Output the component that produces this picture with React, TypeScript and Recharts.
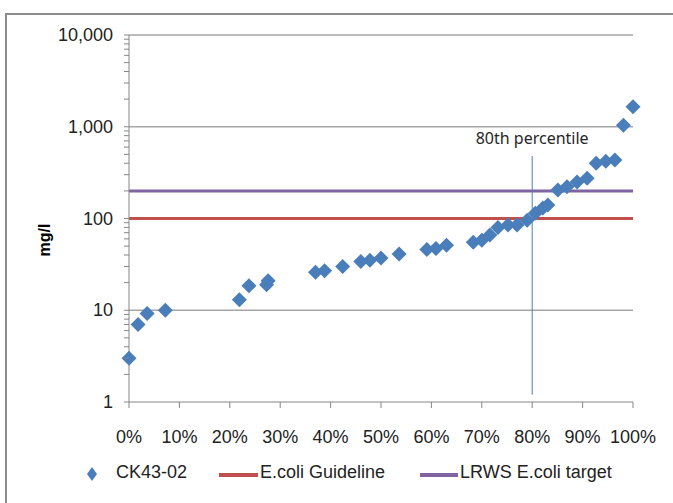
import React from "react";
import { ScatterChart, Scatter, XAxis, YAxis, ReferenceLine } from "recharts";

// percentile position (%) and E.coli reading for site CK43-02
const pct = [
  0, 1.8, 3.6, 7.2, 21.9, 23.8, 27.3, 27.6, 37.0, 38.8, 42.4, 46.0, 47.8, 50.0,
  53.6, 59.1, 60.9, 63.0, 68.3, 70.0, 71.6, 73.2, 75.2, 77.0, 79.0, 80.6, 82.1,
  83.1, 85.1, 86.9, 88.9, 90.9, 92.7, 94.6, 96.4, 98.1, 100,
];
const ecoli = [
  3, 7, 9.2, 10, 13, 18.5, 19, 21, 26, 27, 30, 34, 35, 37,
  41, 46, 47, 51, 55, 58, 66, 80, 85, 85, 96, 114, 130,
  140, 205, 222, 250, 274, 400, 420, 435, 1040, 1650,
];
const guideline = 100;
const lrwsTarget = 200;
const percentile80 = 80;

const xTicks = [0, 10, 20, 30, 40, 50, 60, 70, 80, 90, 100];
const majorY = [1, 10, 100, 1000, 10000];
const minorY: number[] = [];
[1, 10, 100, 1000].forEach((d) => {
  for (let m = 1; m < 10; m++) minorY.push(d * m);
});
minorY.push(10000);

const points = pct.map((x, i) => ({ x, y: ecoli[i] }));

const BLUE = "#4a7ebb";
const RED = "#c0504d";
const PURPLE = "#8064a2";
const AXIS = "#868686";
const GRID = "#a6a6a6";
const FONT = "'Liberation Sans', Arial, sans-serif";

const Diamond = (props: any) => {
  const { cx, cy } = props;
  const h = 7.5;
  return (
    <polygon
      points={`${cx},${cy - h} ${cx + h},${cy} ${cx},${cy + h} ${cx - h},${cy}`}
      fill={BLUE}
    />
  );
};

const YTick = (props: any) => {
  const { x, y, payload } = props;
  const major = majorY.includes(payload.value);
  return (
    <g>
      <line x1={x + 11} x2={x + 16} y1={y} y2={y} stroke={AXIS} strokeWidth={1} />
      {major && (
        <text x={x} y={y} textAnchor="end" dominantBaseline="central" fontSize={18} fontFamily={FONT} fill="#222">
          {payload.value.toLocaleString("en-US")}
        </text>
      )}
    </g>
  );
};

export default function App() {
  return (
    <div style={{ position: "absolute", left: 0, top: 0, width: 673, height: 503, overflow: "hidden", background: "#fff" }}>
      <div style={{ position: "absolute", left: 5, top: 13, width: 700, height: 530, border: "2px solid #8c8c8c" }} />
      <div
        style={{
          position: "absolute", left: 45, top: 240, transform: "translate(-50%,-50%) rotate(-90deg)",
          fontFamily: FONT, fontWeight: 700, fontSize: 16, color: "#000",
        }}
      >
        mg/l
      </div>
      <div style={{ position: "absolute", left: 0, top: 0 }}>
        <ScatterChart width={673} height={503} margin={{ top: 35, right: 40, bottom: 61, left: 0 }}>
          <XAxis
            type="number"
            dataKey="x"
            domain={[0, 100]}
            ticks={xTicks}
            tickFormatter={(v) => `${v}%`}
            stroke={AXIS}
            tickSize={6}
            tickMargin={22}
            height={40}
            tick={{ fontSize: 18, fontFamily: FONT, fill: "#222" }}
          />
          <YAxis
            type="number"
            dataKey="y"
            scale="log"
            domain={[1, 10000]}
            ticks={minorY}
            interval={0}
            stroke={AXIS}
            tickLine={false}
            tickSize={5}
            tickMargin={11}
            width={129}
            tick={<YTick />}
          />
          {[10, 100, 1000, 10000].map((v) => (
            <ReferenceLine key={v} y={v} stroke={GRID} strokeWidth={1.5} />
          ))}
          <ReferenceLine y={guideline} stroke={RED} strokeWidth={3} />
          <ReferenceLine y={lrwsTarget} stroke={PURPLE} strokeWidth={3} />
          <ReferenceLine
            segment={[{ x: percentile80, y: 1.2 }, { x: percentile80, y: 480 }]}
            stroke={BLUE}
            strokeWidth={1}
            label={(p: any) => (
              <text
                x={p.viewBox.x}
                y={p.viewBox.y - 12}
                textAnchor="middle"
                fontSize={16}
                fontFamily="'Noto Sans', sans-serif"
                fill="#262626"
              >
                80th percentile
              </text>
            )}
          />
          <Scatter data={points} shape={<Diamond />} isAnimationActive={false} />
        </ScatterChart>
      </div>
      <div style={{ position: "absolute", top: 462, left: 0, width: 673, height: 24, fontFamily: FONT, fontSize: 18, color: "#222" }}>
        <svg style={{ position: "absolute", left: 86, top: 5 }} width={12} height={14}>
          <polygon points="6,0 11,7 6,14 1,7" fill={BLUE} />
        </svg>
        <span style={{ position: "absolute", left: 116, top: 0 }}>CK43-02</span>
        <div style={{ position: "absolute", left: 219, top: 11, width: 39, height: 4, background: RED }} />
        <span style={{ position: "absolute", left: 260, top: 0 }}>E.coli Guideline</span>
        <div style={{ position: "absolute", left: 420, top: 11, width: 38, height: 4, background: PURPLE }} />
        <span style={{ position: "absolute", left: 460, top: 0 }}>LRWS E.coli target</span>
      </div>
    </div>
  );
}
